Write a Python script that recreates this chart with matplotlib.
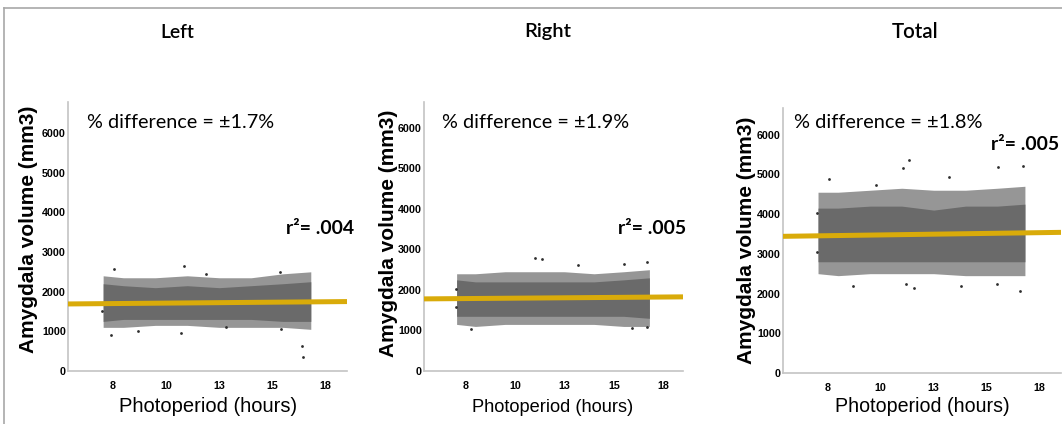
import numpy as np
import matplotlib
matplotlib.use("Agg")
import matplotlib.pyplot as plt
from matplotlib.lines import Line2D

# --- data ----------------------------------------------------------------
panels = ['Left', 'Right', 'Total']
pct_diff = ['% difference = ±1.7%', '% difference = ±1.9%', '% difference = ±1.8%']
r2_text = ['r²= .004', 'r²= .005', 'r²= .005']

tick_pos = [8, 10.5, 13, 15.5, 18]
tick_lab = ['8', '10', '13', '15', '18']
ytick_vals = [0, 1000, 2000, 3000, 4000, 5000, 6000]

# envelope of the point cloud (x positions on the plotted axis)
env_x = [7.55, 8.5, 10, 11.5, 13, 14.5, 16, 17.3]

left_core_lo = [1250, 1300, 1300, 1300, 1300, 1300, 1250, 1250]
left_core_hi = [2200, 2150, 2100, 2150, 2100, 2150, 2200, 2250]
left_halo_lo = [1100, 1100, 1150, 1150, 1100, 1100, 1100, 1050]
left_halo_hi = [2400, 2350, 2350, 2400, 2350, 2350, 2450, 2500]
left_out_x = [7.9, 9.2, 11.2, 11.35, 8.05, 15.85, 13.3, 15.9, 16.9, 16.95, 7.5, 12.4]
left_out_y = [900, 1010, 960, 2650, 2570, 2500, 1100, 1070, 630, 360, 1500, 2450]

right_core_lo = [1350, 1350, 1350, 1350, 1350, 1350, 1350, 1300]
right_core_hi = [2250, 2200, 2200, 2200, 2200, 2200, 2250, 2300]
right_halo_lo = [1150, 1100, 1150, 1150, 1150, 1150, 1100, 1100]
right_halo_hi = [2400, 2400, 2450, 2450, 2450, 2400, 2450, 2500]
right_out_x = [11.5, 11.86, 17.2, 16.0, 13.7, 8.3, 17.2, 16.4, 7.5, 7.5]
right_out_y = [2800, 2760, 2700, 2630, 2620, 1030, 1090, 1070, 1590, 2020]

total_core_lo = [2800, 2800, 2800, 2800, 2800, 2800, 2800, 2800]
total_core_hi = [4150, 4150, 4200, 4200, 4100, 4200, 4200, 4250]
total_halo_lo = [2500, 2450, 2500, 2500, 2500, 2450, 2450, 2450]
total_halo_hi = [4550, 4550, 4600, 4650, 4600, 4600, 4650, 4700]
total_out_x = [11.84, 11.54, 16.04, 17.2, 8.05, 12.07, 11.7, 17.07, 9.2, 16.0, 7.5, 7.5, 13.7, 10.3, 14.3]
total_out_y = [5350, 5160, 5190, 5220, 4890, 2130, 2240, 2070, 2200, 2230, 3040, 4030, 4930, 4740, 2180]

# regression line endpoints at the axis limits
fit_x = [5.9, 19.0]
left_fit = [1690, 1750]
right_fit = [1780, 1830]
total_fit = [3440, 3540]

# --- layout --------------------------------------------------------------
W, H = 1062, 424
fig = plt.figure(figsize=(W / 100, H / 100), dpi=100)
renderer = fig.canvas.get_renderer()

def box(l, t, r, b):
    return [l / W, 1 - b / H, (r - l) / W, (b - t) / H]

def fx(x):
    return x / W

def fy(y):
    return 1 - y / H

def fit_width(t, target):
    # scale font so the text is about as wide as in the reference
    w = t.get_window_extent(renderer).width
    t.set_fontsize(t.get_fontsize() * target / w)

calib = ['Lato', 'DejaVu Sans']
arial = ['Liberation Sans', 'DejaVu Sans']

boxes = [(68, 102, 347, 371), (424, 102, 683, 371), (783, 108, 1061, 373)]
ytops = [6780, 6640, 6670]
title_x = [177.5, 548, 915]
title_w = [34, 47, 47]
ylab_x = [29, 388, 747]
ylab_y = [229, 233, 240]
xlab_x = [208, 553, 922]
xlab_w = [180, 163, 175]
pct_x = [87, 442, 794]
pct_w = [188, 188, 189]
r2_x = [354, 686, 1059]
r2_y = [228, 228, 145]

cores = [(left_core_lo, left_core_hi), (right_core_lo, right_core_hi), (total_core_lo, total_core_hi)]
halos = [(left_halo_lo, left_halo_hi), (right_halo_lo, right_halo_hi), (total_halo_lo, total_halo_hi)]
outs = [(left_out_x, left_out_y), (right_out_x, right_out_y), (total_out_x, total_out_y)]
fits = [left_fit, right_fit, total_fit]

for i in range(3):
    ax = fig.add_axes(box(*boxes[i]))
    lo, hi = halos[i]
    ax.fill_between(env_x, lo, hi, color='#969696', linewidth=0, zorder=1)
    lo, hi = cores[i]
    ax.fill_between(env_x, lo, hi, color='#6a6a6a', linewidth=0, zorder=2)
    ox, oy = outs[i]
    ax.scatter(ox, oy, s=4, color='#2e2e2e', linewidths=0, zorder=3)
    ax.plot(fit_x, fits[i], color='#d9ab0a', lw=3.6, solid_capstyle='butt', zorder=4)

    ax.set_xlim(5.9, 19.0)
    ax.set_ylim(0, ytops[i])
    ax.set_xticks(tick_pos)
    ax.set_xticklabels(tick_lab)
    ax.set_yticks(ytick_vals)
    ax.tick_params(length=0, pad=7, axis='x')
    ax.tick_params(length=0, pad=1.5, axis='y')
    for lab in ax.get_xticklabels() + ax.get_yticklabels():
        lab.set_fontfamily(arial)
        lab.set_fontweight('bold')
        lab.set_fontsize(7.7)
    for s in ['top', 'right']:
        ax.spines[s].set_visible(False)
    for s in ['left', 'bottom']:
        ax.spines[s].set_color('#c4c4c4')
        ax.spines[s].set_linewidth(1.2)
    ax.patch.set_visible(False)

    t = fig.text(fx(title_x[i]), fy(32), panels[i], family=calib, fontsize=16,
                 fontweight='semibold', ha='center', va='center')
    fit_width(t, title_w[i])
    fig.text(fx(ylab_x[i]), fy(ylab_y[i]), 'Amygdala volume (mm3)', family=arial,
             fontweight='bold', fontsize=15, rotation=90, ha='center', va='center')
    t = fig.text(fx(xlab_x[i]), fy(407), 'Photoperiod (hours)', family=arial,
                 fontsize=14, ha='center', va='center')
    fit_width(t, xlab_w[i])
    t = fig.text(fx(pct_x[i]), fy(122), pct_diff[i], family=calib, fontsize=16,
                 ha='left', va='center')
    fit_width(t, pct_w[i])
    t = fig.text(fx(r2_x[i]), fy(r2_y[i]), r2_text[i], family=calib, fontweight='bold',
                 fontsize=16, ha='right', va='center')
    fit_width(t, 68)

# outer frame of the figure panel
fig.add_artist(Line2D([fx(4), 1], [fy(8), fy(8)], color='#a8a8a8', lw=1.2))
fig.add_artist(Line2D([fx(4), fx(4)], [fy(8), 0], color='#a8a8a8', lw=1.2))

fig.savefig('out.png', dpi=100)
